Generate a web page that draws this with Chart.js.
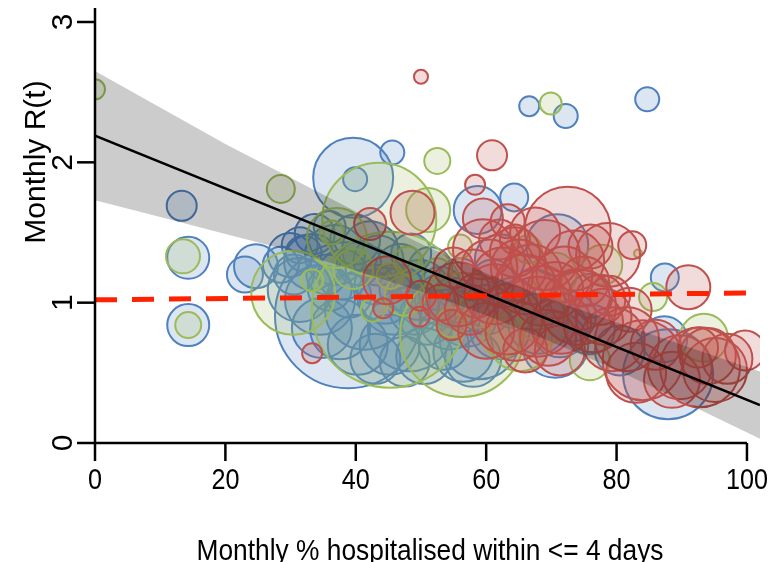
<!DOCTYPE html>
<html><head><meta charset="utf-8">
<script src="https://cdn.jsdelivr.net/npm/chart.js@4.4.0/dist/chart.umd.min.js"></script>
<style>html,body{margin:0;padding:0;background:#fff;overflow:hidden}canvas{display:block}</style>
</head><body>
<canvas id="c" width="784" height="562"></canvas>
<script>
const xTicks = [0, 20, 40, 60, 80, 100];
const yTicks = [0, 1, 2, 3];
const xTitle = 'Monthly % hospitalised within <= 4 days';
const yTitle = 'Monthly R(t)';

// [x, y, size]
const blueBubbles = [
  [13.3,1.69,15],[14.3,1.32,21],[14.3,0.84,21],[23.0,1.20,18],[24.7,1.26,22],
  [29.9,1.34,22],[31.4,1.41,18],[33.7,1.49,20],[36.0,1.54,16],[33.3,1.29,28],
  [36.8,1.34,30],[39.9,1.45,25],[42.2,1.38,28],[39.6,1.89,40],[39.9,1.88,12],
  [45.6,2.07,12],[38.8,0.91,73],[34.5,1.02,35],[37.6,0.81,30],[41.4,0.95,40],
  [46.0,1.02,35],[48.3,0.81,42],[45.2,0.70,30],[49.8,1.09,30],[52.9,1.02,25],
  [51.4,1.24,22],[54.4,0.88,30],[46.8,1.24,25],[42.9,1.13,20],[56.0,1.16,22],
  [59.0,0.74,40],[58.7,1.66,24],[64.3,1.75,14],[70.9,1.41,31],[87.4,1.18,14],
  [87.9,0.49,45],[87.3,0.74,23],[80.5,0.66,25],[67.5,1.02,30],[62.1,1.31,25],
  [71.3,0.81,28],[75.9,0.81,25],[66.6,2.40,10],[72.2,2.33,12],[84.7,2.45,12],
  [62.1,0.81,30],[70.6,0.70,33],[31.4,1.09,32],[40.3,0.70,30],[34.8,0.82,30],
  [36.0,1.10,22],[38.0,1.20,25],[40.5,1.28,22],[43.5,1.30,25],[44.5,1.05,28],
  [47.0,1.10,22],[49.0,0.95,25],[51.0,0.90,28],[53.0,1.10,22],[55.0,1.00,25],
  [57.0,0.90,30],[58.0,0.60,28],[60.0,0.95,25],[56.5,0.65,30],[53.5,0.70,25],
  [50.5,0.62,28],[47.5,0.58,25],[43.0,0.60,25],[39.0,1.05,22],[35.5,1.20,20],
  [32.0,1.35,18],[30.5,1.20,20],[28.5,1.27,18],[48.5,1.35,20],[61.0,1.15,22],
  [64.0,1.00,25],[68.0,0.85,30],[73.0,0.90,25],[76.0,1.05,22]
];
const greenBubbles = [
  [0,2.52,10],[13.5,1.33,17],[14.3,0.84,13],[28.5,1.81,14],[30.4,1.07,42],
  [43.6,1.59,57],[45.2,0.95,78],[56.3,0.77,62],[51.1,1.66,22],[52.5,2.01,13],
  [36.3,1.50,12],[33.3,1.16,11],[45.2,1.19,13],[39.6,1.24,20],[42.6,0.95,12],
  [54.7,0.86,15],[37.1,1.46,30],[66.4,1.38,14],[77.8,1.27,20],[83.3,1.35,4],
  [69.9,2.42,11],[85.6,1.04,14],[93.4,0.75,24],[65.2,0.74,32],[69.0,0.88,25],
  [75.9,0.59,20],[52.5,1.21,15],[47.5,1.05,20],[58.5,0.95,18],[62.5,0.75,20],
  [70.5,1.20,22],[48.0,1.30,14],[56.0,1.40,12]
];
const redBubbles = [
  [50.0,2.61,7],[60.9,2.05,15],[58.3,1.84,10],[33.3,0.64,10],[42.2,1.56,16],
  [48.7,1.64,22],[44.8,1.16,24],[44.2,0.96,10],[49.8,0.90,10],[59.5,1.60,20],
  [63.3,1.58,17],[64.4,1.45,15],[72.5,1.52,43],[78.7,1.34,32],[82.4,1.41,14],
  [91.0,1.11,22],[99.7,0.66,20],[55.7,1.06,32],[59.5,1.38,30],[54.7,0.84,15],
  [64.4,1.36,25],[69.0,1.34,35],[74.4,1.02,30],[67.8,0.90,40],[63.2,0.88,35],
  [76.4,0.86,30],[79.4,0.74,32],[84.0,0.59,40],[89.7,0.54,32],[92.8,0.54,40],
  [95.1,0.52,32],[92.5,0.68,20],[74.1,0.97,38],[81.6,0.74,32],[57.5,0.95,25],
  [61.3,1.06,30],[66.0,1.13,30],[70.6,1.09,28],[71.3,0.66,25],[66.0,0.66,22],
  [77.5,1.02,25],
  [58.0,1.20,25],[60.5,1.25,28],[62.5,1.18,30],[65.0,1.25,28],[67.0,1.20,30],
  [68.5,1.05,30],[72.0,1.20,28],[73.5,1.30,30],[75.0,1.15,25],[71.5,0.85,30],
  [69.5,0.75,28],[64.5,0.80,30],[60.0,0.80,28],[58.5,1.05,22],[62.0,1.45,20],
  [67.5,1.50,25],[76.0,1.40,22],[79.0,1.05,20],[78.0,0.90,28],[82.0,0.95,22],
  [86.0,0.70,25],[83.0,0.50,30],[94.0,0.62,28],[97.0,0.60,25],[88.5,0.45,28],
  [55.0,1.25,20],[53.0,1.00,18],[50.0,1.05,15]
];

const fitX = [0, 102];
const fitY = [2.19, 0.27];
const refX = [0, 102];
const refY = [1.02, 1.07];
const bandX = [0, 10, 20, 30, 40, 50, 60, 70, 80, 90, 102];
const bandUpper = [2.65, 2.39, 2.13, 1.89, 1.65, 1.42, 1.21, 1.02, 0.86, 0.70, 0.51];
const bandLower = [1.73, 1.61, 1.49, 1.37, 1.23, 1.08, 0.91, 0.72, 0.52, 0.30, 0.03];

const toBubbles = arr => arr.map(([x, y, r]) => ({x, y, r}));
const toLine = (xs, ys) => xs.map((v, i) => ({x: v, y: ys[i]}));

const FONT = '"Liberation Sans", Arial, sans-serif';
const axesPlugin = {
  id: 'axes',
  afterDraw(chart) {
    const {ctx, scales: {x, y}} = chart;
    ctx.save();
    ctx.strokeStyle = '#000';
    ctx.lineWidth = 2.5;
    const x0 = x.getPixelForValue(0), x1 = x.getPixelForValue(100);
    const yb = y.getPixelForValue(0), yt = y.getPixelForValue(3);
    ctx.beginPath();
    ctx.moveTo(x0, yt - 14); ctx.lineTo(x0, yb); ctx.lineTo(x1, yb);
    ctx.stroke();
    xTicks.forEach(v => {
      const px = x.getPixelForValue(v);
      ctx.beginPath(); ctx.moveTo(px, yb); ctx.lineTo(px, yb + 18); ctx.stroke();
    });
    yTicks.forEach(v => {
      const py = y.getPixelForValue(v);
      ctx.beginPath(); ctx.moveTo(x0 - 18, py); ctx.lineTo(x0, py); ctx.stroke();
    });
    ctx.fillStyle = '#000';
    ctx.font = '30px ' + FONT;
    ctx.textBaseline = 'alphabetic';
    ctx.textAlign = 'center';
    xTicks.forEach(v => {
      const px = x.getPixelForValue(v);
      ctx.save(); ctx.translate(px, 489); ctx.scale(0.84, 1);
      ctx.fillText(String(v), 0, 0); ctx.restore();
    });
    yTicks.forEach(v => {
      const py = y.getPixelForValue(v);
      ctx.save(); ctx.translate(72, py); ctx.rotate(-Math.PI / 2);
      ctx.fillText(String(v), 0, 0); ctx.restore();
    });
    ctx.save(); ctx.translate(45, 162); ctx.rotate(-Math.PI / 2);
    ctx.fillText(yTitle, 0, 0); ctx.restore();
    const w = ctx.measureText(xTitle).width;
    ctx.save(); ctx.translate(430, 560); ctx.scale(467 / w, 1);
    ctx.fillText(xTitle, 0, 0); ctx.restore();
    ctx.restore();
  }
};

new Chart(document.getElementById('c'), {
  type: 'bubble',
  data: {
    datasets: [
      {type: 'line', data: toLine(bandX, bandUpper), borderWidth: 0, pointRadius: 0, fill: false, order: 4, clip: 0, tension: 0},
      {type: 'line', data: toLine(bandX, bandLower), borderWidth: 0, pointRadius: 0, fill: '-1', backgroundColor: 'rgba(0,0,0,0.2)', order: 4, clip: 0, tension: 0},
      {type: 'bubble', data: toBubbles(blueBubbles), backgroundColor: 'rgba(79,129,189,0.2)', borderColor: '#4f81bd', borderWidth: 2, order: 7, clip: 0},
      {type: 'bubble', data: toBubbles(greenBubbles), backgroundColor: 'rgba(155,187,89,0.2)', borderColor: '#9bbb59', borderWidth: 2, order: 6, clip: 0},
      {type: 'bubble', data: toBubbles(redBubbles), backgroundColor: 'rgba(192,80,77,0.2)', borderColor: '#c0504d', borderWidth: 2, order: 5, clip: 0},
      {type: 'line', data: toLine(fitX, fitY), borderColor: '#000', borderWidth: 2.5, pointRadius: 0, fill: false, order: 1, clip: 0},
      {type: 'line', data: toLine(refX, refY), borderColor: '#ff2200', borderWidth: 5, borderDash: [22, 15], pointRadius: 0, fill: false, order: 0, clip: 0}
    ]
  },
  options: {
    responsive: false,
    devicePixelRatio: 1,
    animation: false,
    events: [],
    layout: {autoPadding: false, padding: {left: 95, right: 24, top: 22, bottom: 119}},
    plugins: {legend: {display: false}, tooltip: {enabled: false}},
    scales: {
      x: {type: 'linear', min: 0, max: 102, display: false},
      y: {type: 'linear', min: 0, max: 3, display: false}
    }
  },
  plugins: [axesPlugin]
});
</script>
</body></html>
